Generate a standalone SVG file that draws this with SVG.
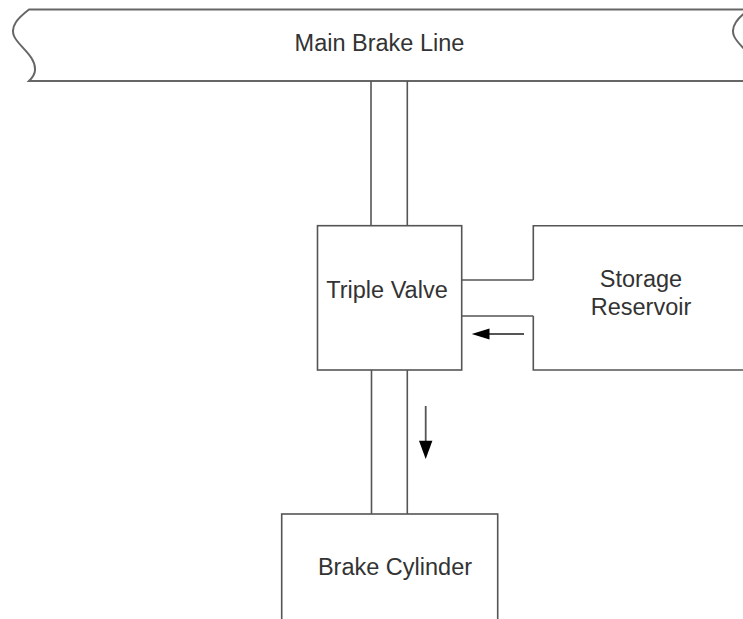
<svg xmlns="http://www.w3.org/2000/svg" width="743" height="619" viewBox="0 0 743 619">
<defs>
<style>
.shape{fill:#fff;stroke:#555;stroke-width:1.6}
.main{fill:#fff;stroke:#666;stroke-width:2}
.pipe{fill:none;stroke:#555;stroke-width:1.6}
.arr{fill:none;stroke:#555;stroke-width:1.8}
.head{fill:#000;stroke:none}
.lbl{font-family:"Liberation Sans",Arial,sans-serif;font-size:23.5px;fill:#333;text-anchor:middle}
</style>
</defs>
<rect width="743" height="619" fill="#fff"/>
<g id="main-brake-line">
<path class="main" d="M29,9.5 L749,9.5 C738,18 730,26 734,36 C738,46 756,56 755,70 C755,75 752,78 749,81 L29,81 C32,78 35,75 35,70 C36,56 18,46 14,36 C10,26 18,18 29,9.5 Z"/>
<text class="lbl" x="379.5" y="51">Main Brake Line</text>
</g>
<g id="triple-valve">
<rect class="shape" x="317.5" y="225.7" width="144.2" height="144.3"/>
<text class="lbl" x="387" y="298">Triple Valve</text>
</g>
<g id="storage-reservoir">
<path class="shape" d="M745,225.7 L533.3,225.7 L533.3,280 M533.3,316 L533.3,370 L745,370"/>
<text class="lbl" x="641" y="287">Storage</text>
<text class="lbl" x="641" y="315">Reservoir</text>
</g>
<g id="brake-cylinder">
<rect class="shape" x="281.7" y="514" width="216" height="120"/>
<text class="lbl" x="395" y="575">Brake Cylinder</text>
</g>
<g id="connectors">
<line class="pipe" x1="371" y1="81" x2="371" y2="225.7"/>
<line class="pipe" x1="407.3" y1="81" x2="407.3" y2="225.7"/>
<line class="pipe" x1="371.5" y1="370" x2="371.5" y2="514"/>
<line class="pipe" x1="407.3" y1="370" x2="407.3" y2="514"/>
<line class="pipe" x1="461.7" y1="280" x2="533.3" y2="280"/>
<line class="pipe" x1="461.7" y1="316" x2="533.3" y2="316"/>
<line class="arr" x1="524" y1="334" x2="488" y2="334"/>
<polygon class="head" points="471.7,334 489.5,328.5 489.5,339.5"/>
<line class="arr" x1="425.7" y1="406" x2="425.7" y2="442"/>
<polygon class="head" points="425.7,459 419,440.7 432.4,440.7"/>
</g>
</svg>
